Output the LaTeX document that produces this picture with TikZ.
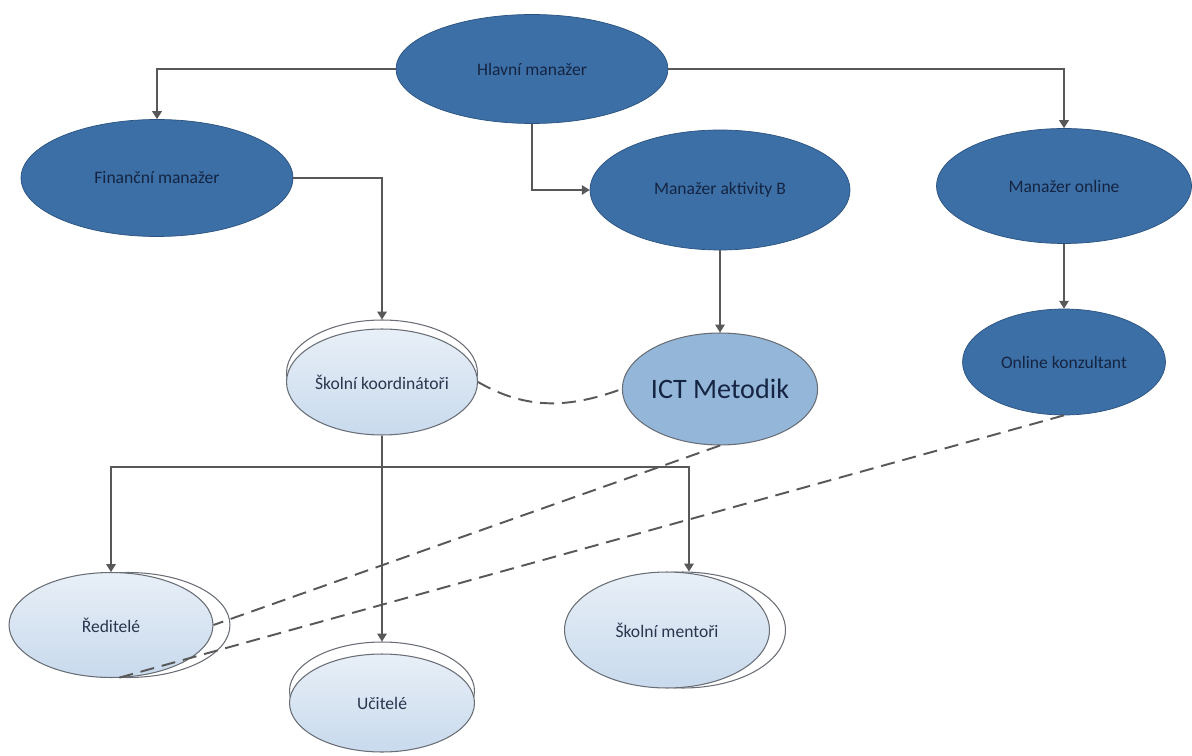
\documentclass[tikz,border=0pt]{standalone}
\usepackage{fontspec}
\setmainfont{Carlito}
\usetikzlibrary{shapes.geometric,arrows.meta}

\definecolor{mgrfill}{RGB}{60,111,166}
\definecolor{mgrrim}{RGB}{42,82,128}
\definecolor{mgrtext}{RGB}{20,36,66}
\definecolor{ictfill}{RGB}{148,182,217}
\definecolor{schooltop}{RGB}{232,239,247}
\definecolor{schoolbot}{RGB}{200,218,237}
\definecolor{rimgray}{RGB}{105,110,118}
\definecolor{linegray}{RGB}{88,88,88}

\tikzstyle{mgrnode}=[ellipse,
                     draw=mgrrim,
                     fill=mgrfill,
                     text=mgrtext,
                     inner sep=0pt,
                     font=\fontsize{10}{12}\selectfont]
\tikzstyle{schoolnode}=[ellipse,
                        draw=rimgray,
                        line width=0.6pt,
                        top color=schooltop,
                        bottom color=schoolbot,
                        text=mgrtext!80!gray,
                        inner sep=0pt,
                        font=\fontsize{10}{12}\selectfont]
\tikzstyle{backnode}=[ellipse,
                      draw=rimgray,
                      line width=0.6pt,
                      fill=white,
                      inner sep=0pt]
\tikzstyle{conn}=[draw=linegray, line width=0.7pt,
                  -{Triangle[width=5.5pt,length=4.5pt]}]
\tikzstyle{dashlink}=[draw=linegray, line width=1.1pt,
                      dash pattern=on 8pt off 4.5pt]

\begin{document}
\begin{tikzpicture}[x=0.02cm,y=-0.02cm]
    \useasboundingbox (0,0) rectangle (1192,756);

    % managers
    \node [mgrnode, minimum width=5.44cm, minimum height=2.18cm] (hlavni) at (532,69) {Hlavní manažer};
    \node [mgrnode, minimum width=5.44cm, minimum height=2.34cm] (financni) at (157,178) {Finanční manažer};
    \node [mgrnode, minimum width=5.2cm, minimum height=2.4cm] (aktivita) at (720,190) {Manažer aktivity B};
    \node [mgrnode, minimum width=5.1cm, minimum height=2.3cm] (online) at (1064,186) {Manažer online};
    \node [mgrnode, minimum width=4.06cm, minimum height=2.12cm] (konzultant) at (1064,362) {Online konzultant};
    \node [ellipse, draw=rimgray, line width=0.6pt, fill=ictfill, text=mgrtext, inner sep=0pt,
           font=\fontsize{16}{19}\selectfont, minimum width=3.6cm, minimum height=2.24cm] (ict) at (720,389) {ICT Metodik};

    % school level, each with its copy behind
    \node [backnode, minimum width=3.82cm, minimum height=2.12cm] (koordback) at (382,373) {};
    \node [schoolnode, minimum width=3.82cm, minimum height=2.12cm] (koord) at (382,382) {Školní koordinátoři};
    \node [backnode, minimum width=4.08cm, minimum height=2.1cm] (reditback) at (128,625) {};
    \node [schoolnode, minimum width=4.08cm, minimum height=2.1cm] (redit) at (111,625) {Ředitelé};
    \node [backnode, minimum width=3.7cm, minimum height=1.96cm] (ucitback) at (382,691) {};
    \node [schoolnode, minimum width=3.7cm, minimum height=1.96cm] (ucitele) at (382,703) {Učitelé};
    \node [backnode, minimum width=4.1cm, minimum height=2.32cm] (mentorback) at (683,630) {};
    \node [schoolnode, minimum width=4.1cm, minimum height=2.32cm] (mentori) at (667,630) {Školní mentoři};

    % lines of command
    \draw [conn] (hlavni.west) -| (financni.north);
    \draw [conn] (hlavni.east) -| (online.north);
    \draw [conn] (hlavni.south) |- (aktivita.west);
    \draw [conn] (financni.east) -| (koordback.north);
    \draw [conn] (aktivita.south) -- (ict.north);
    \draw [conn] (online.south) -- (konzultant.north);
    \coordinate (split) at (382,467);
    \draw [conn] (koord.south) -- (ucitback.north);
    \draw [conn] (split) -| (redit.north);
    \draw [conn] (split) -| ([xshift=0.44cm]mentori.north);

    % cooperation
    \draw [dashlink] (koord.east) to[out=-30,in=200] (ict.west);
    \draw [dashlink] (ict.south) -- (redit.east);
    \draw [dashlink] (konzultant.south) -- ([xshift=0.14cm]redit.south);
\end{tikzpicture}
\end{document}
